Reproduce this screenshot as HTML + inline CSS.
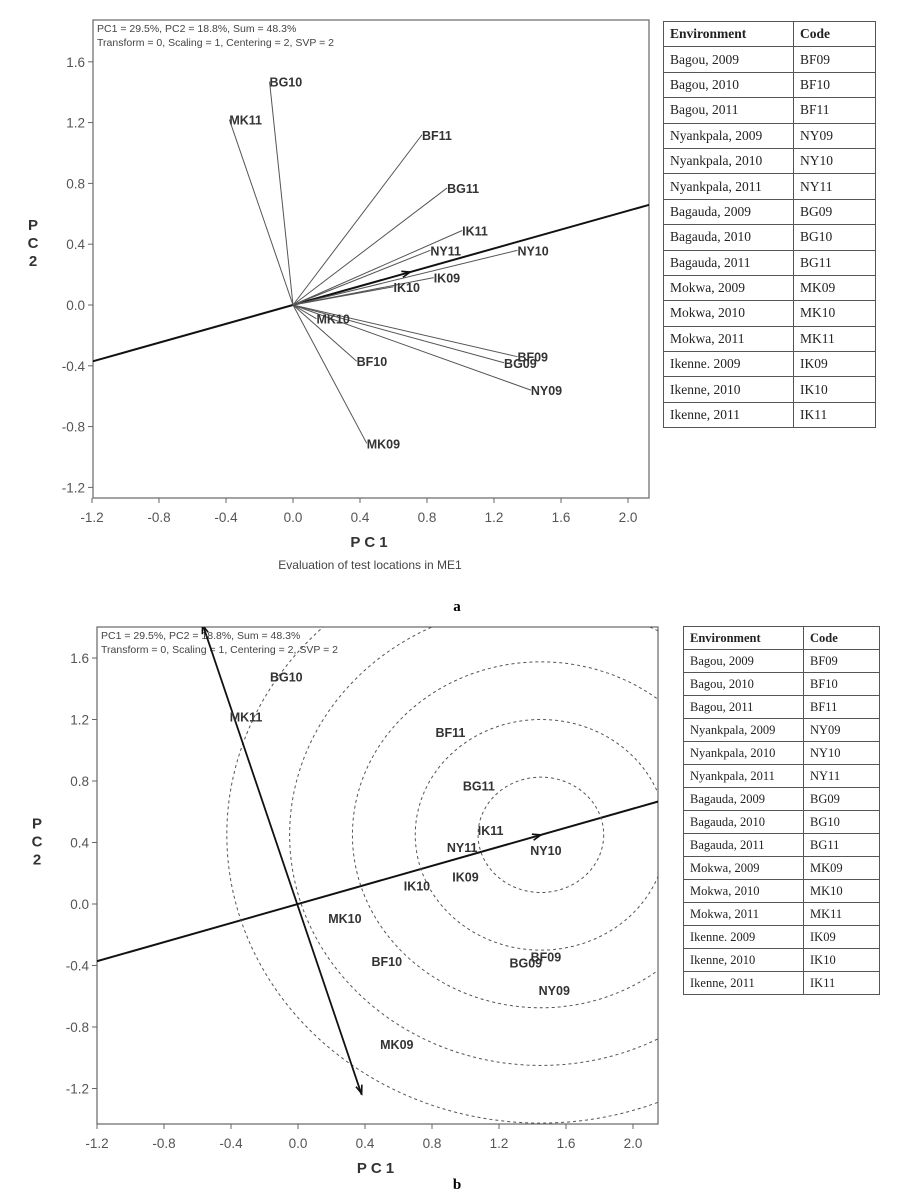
<!DOCTYPE html>
<html><head><meta charset="utf-8"><style>
body{margin:0;background:#fff;width:915px;height:1195px;overflow:hidden;font-family:"Liberation Sans",sans-serif}
svg{position:absolute;left:0;top:0}
table{position:absolute;border-collapse:collapse;font-family:"Liberation Serif",serif;color:#222}
td{border:1px solid #555;padding:0 0 0 6px;font-size:13px;white-space:nowrap}
.h td{font-weight:bold}
</style></head><body>
<svg id="chart" width="915" height="1195"></svg>
<table id="t1" style="left:663px;top:21px;width:213px"></table>
<table id="t2" style="left:683px;top:626px;width:197px"></table>
<script>
const codes=["BG10","MK11","BF11","BG11","IK11","NY11","NY10","IK09","IK10","MK10","BF10","BF09","BG09","NY09","MK09"];
const pc1A=[-0.14,-0.38,0.77,0.92,1.01,0.82,1.34,0.84,0.60,0.14,0.38,1.34,1.26,1.42,0.44];
const pc2A=[1.47,1.22,1.12,0.77,0.49,0.36,0.36,0.18,0.12,-0.09,-0.37,-0.34,-0.38,-0.56,-0.91];
const pc1B=[-0.07,-0.31,0.91,1.08,1.15,0.98,1.48,1.00,0.71,0.28,0.53,1.48,1.36,1.53,0.59];
const pc2B=[1.48,1.22,1.12,0.77,0.48,0.37,0.35,0.18,0.12,-0.09,-0.37,-0.34,-0.38,-0.56,-0.91];
const xTicks=["-1.2","-0.8","-0.4","0.0","0.4","0.8","1.2","1.6","2.0"];
const yTicks=["-1.2","-0.8","-0.4","0.0","0.4","0.8","1.2","1.6"];
const ringRadii=[0.375,0.75,1.125,1.5,1.875];
const idealPoint=[1.45,0.45];
const envNames=["Bagou, 2009","Bagou, 2010","Bagou, 2011","Nyankpala, 2009","Nyankpala, 2010","Nyankpala, 2011","Bagauda, 2009","Bagauda, 2010","Bagauda, 2011","Mokwa, 2009","Mokwa, 2010","Mokwa, 2011","Ikenne. 2009","Ikenne, 2010","Ikenne, 2011"];
const envCodes=["BF09","BF10","BF11","NY09","NY10","NY11","BG09","BG10","BG11","MK09","MK10","MK11","IK09","IK10","IK11"];

const NS="http://www.w3.org/2000/svg";
const svg=document.getElementById('chart');
function mk(tag,at,parent,txt){const e=document.createElementNS(NS,tag);for(const k in at)e.setAttribute(k,at[k]);if(txt!==undefined)e.textContent=txt;(parent||svg).appendChild(e);return e;}

function panel(P,xs,ys,mode,name){
  const g=mk('g',{});
  
  
  const X=v=>P.x0+v*P.sx, Y=v=>P.y0-v*P.sy;
  const cp='clip'+name;
  const d=mk('defs',{},g);const c=mk('clipPath',{id:cp},d);mk('rect',{x:P.L,y:P.T,width:P.R-P.L,height:P.B-P.T},c);
  const fr=mk('rect',{x:P.L,y:P.T,width:P.R-P.L,height:P.B-P.T,fill:'none',stroke:'#666','stroke-width':1.2},g);
  
  
  xTicks.forEach(t=>{const x=X(parseFloat(t));mk('line',{x1:x,x2:x,y1:P.B,y2:P.B+5,stroke:'#666'},g);
    const e=mk('text',{x:x,y:P.B+24,'text-anchor':'middle','font-size':13.5,fill:'#555'},g,t);
    
    });
  yTicks.forEach(t=>{const y=Y(parseFloat(t));mk('line',{x1:P.L-5,x2:P.L,y1:y,y2:y,stroke:'#666'},g);
    const e=mk('text',{x:P.L-8,y:y+5,'text-anchor':'end','font-size':13.5,fill:'#555'},g,t);
    
    });
  const xt=mk('text',{x:(P.L+P.R)/2,y:P.B+49,'text-anchor':'middle','font-size':15,'font-weight':'bold',fill:'#333','letter-spacing':'4'},g,'PC1');
  
  
  const yt=mk('text',{x:P.L-60,y:Y(0.4),'text-anchor':'middle','font-size':15,'font-weight':'bold',fill:'#333'},g);
  
  
  ['P','C','2'].forEach((ch,i)=>mk('tspan',{x:P.L-60,dy:i?18:-14},yt,ch));
  const st=mk('text',{x:P.L+4,y:P.T+12,'font-size':10.5,fill:'#444'},g,'PC1 = 29.5%, PC2 = 18.8%, Sum = 48.3%');
  
  
  const st2=mk('text',{x:P.L+4,y:P.T+26,'font-size':10.5,fill:'#444'},g,'Transform = 0, Scaling = 1, Centering = 2, SVP = 2');
  
  
  const cg=mk('g',{'clip-path':'url(#'+cp+')'},g);
  const sl=0.31;
  const aea=mk('line',{x1:X(-1.3),y1:Y(-1.3*sl),x2:X(2.3),y2:Y(2.3*sl),stroke:'#111','stroke-width':2},cg);
  
  
  function arrow(x,y,ang){const a=9;mk('path',{d:`M${x-a*Math.cos(ang-0.35)},${y-a*Math.sin(ang-0.35)}L${x},${y}L${x-a*Math.cos(ang+0.35)},${y-a*Math.sin(ang+0.35)}`,fill:'none',stroke:'#111','stroke-width':1.6},cg);}
  const angA=Math.atan2(-sl*P.sy,P.sx);
  if(mode==='a'){
    xs.forEach((v,i)=>{const l=mk('line',{x1:X(0),y1:Y(0),x2:X(v),y2:Y(ys[i]),stroke:'#555','stroke-width':1},cg);
      
      });
    arrow(X(0.7),Y(0.7*sl),angA);
  } else {
    ringRadii.forEach(r=>{const e=mk('ellipse',{cx:X(idealPoint[0]),cy:Y(idealPoint[1]),rx:r*P.sx,ry:r*P.sy,fill:'none',stroke:'#555','stroke-width':1,'stroke-dasharray':'3,3'},cg);
      
      });
    const o=mk('line',{x1:X(-0.57),y1:Y(1.82),x2:X(0.38),y2:Y(-1.24),stroke:'#111','stroke-width':1.8},cg);
    
    
    const dx=(0.38+0.57)*P.sx,dy=(1.82+1.24)*P.sy;const an=Math.atan2(dy,dx);
    arrow(X(0.38),Y(-1.24)-1,an);arrow(X(-0.57),Y(1.82)+1,an+Math.PI);
    arrow(X(idealPoint[0]),Y(idealPoint[0]*sl),angA);
  }
  xs.forEach((v,i)=>{
    const e=mk('text',{x:X(v),y:Y(ys[i])+5,'text-anchor':mode==='a'?'start':'middle','font-size':12.5,'font-weight':'bold',fill:'#333'},g,codes[i]);
    
    
  });
}
panel({L:93,R:649,T:20,B:498,x0:293,sx:167.5,y0:305,sy:152},pc1A,pc2A,'a','biplot-a');
panel({L:97,R:658,T:627,B:1124,x0:298,sx:167.5,y0:904,sy:153.75},pc1B,pc2B,'b','biplot-b');
const cap=mk('text',{x:370,y:569,'text-anchor':'middle','font-size':12,fill:'#444'},svg,'Evaluation of test locations in ME1');


const la=mk('text',{x:457,y:611,'text-anchor':'middle','font-size':15,'font-weight':'bold','font-family':'Liberation Serif'},svg,'a');


const lb=mk('text',{x:457,y:1189,'text-anchor':'middle','font-size':15,'font-weight':'bold','font-family':'Liberation Serif'},svg,'b');


function fill(id,h,w1,fs){const t=document.getElementById(id);
  let html=`<tr class="h" style="height:${h}px"><td style="width:${w1}px;font-size:${fs}px">Environment</td><td style="font-size:${fs}px">Code</td></tr>`;
  envNames.forEach((n,i)=>{html+=`<tr style="height:${h}px"><td style="font-size:${fs}px">${n}</td><td style="font-size:${fs}px">${envCodes[i]}</td></tr>`;});
  t.innerHTML=html;}
fill('t1',25.4,123,13.5);fill('t2',23,113,12.5);
</script>
</body></html>
